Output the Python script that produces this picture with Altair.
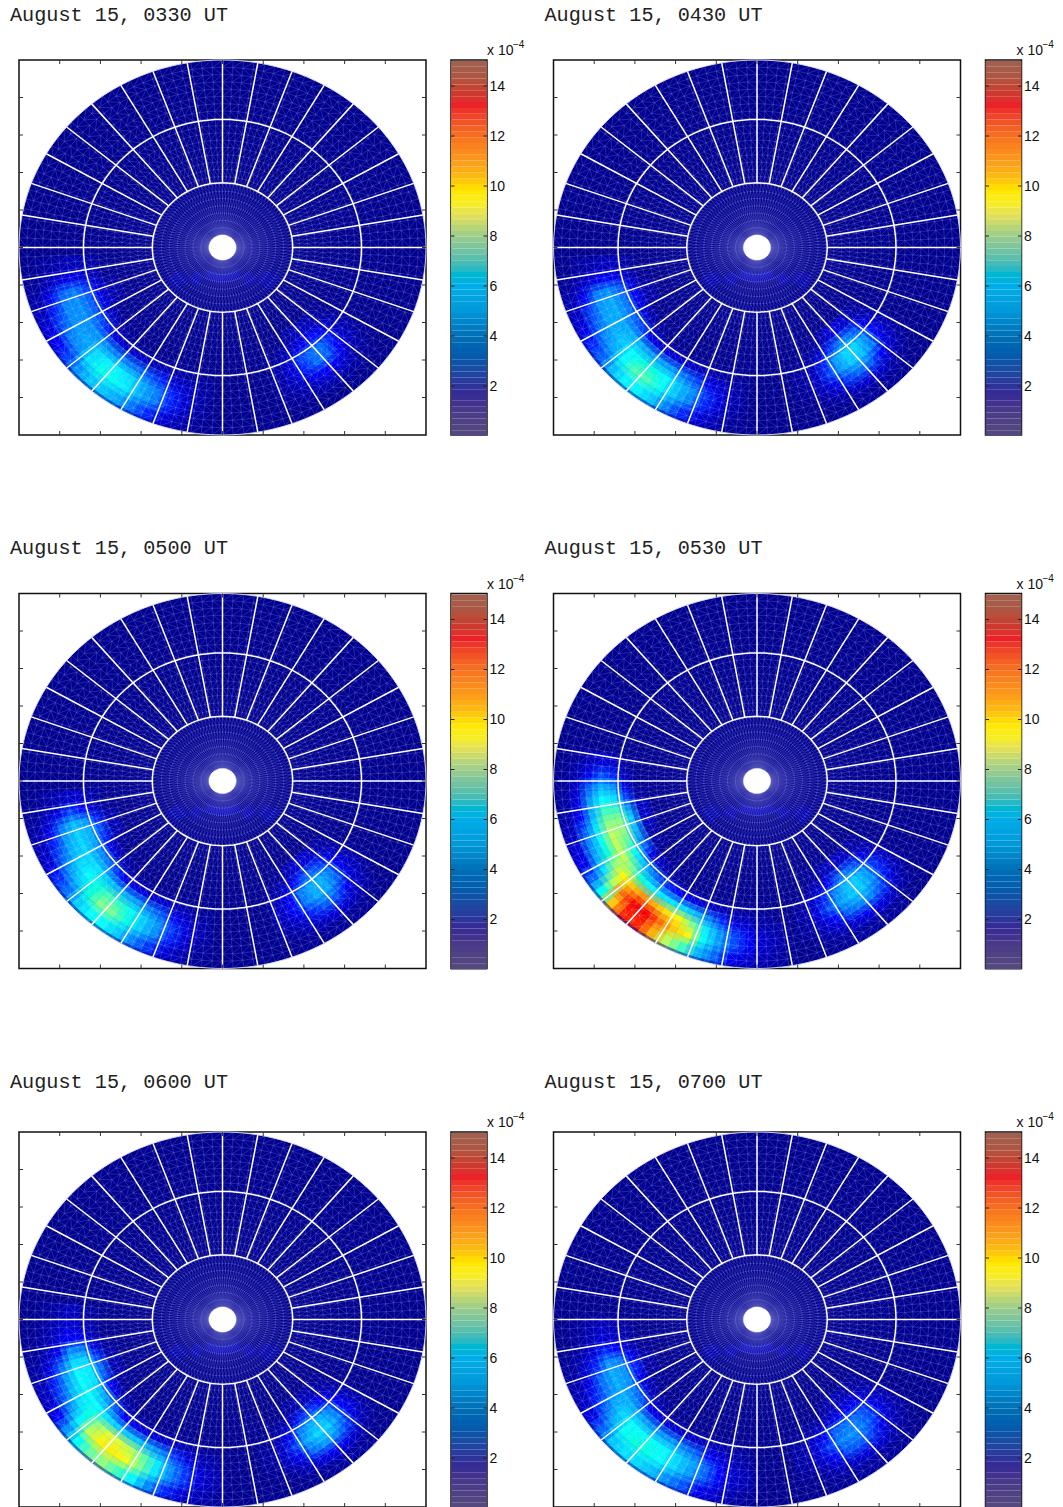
import math
import altair as alt

TITLES = ["August 15, 0330 UT", "August 15, 0430 UT", "August 15, 0500 UT",
          "August 15, 0530 UT", "August 15, 0600 UT", "August 15, 0700 UT"]
RING_CENTRES_EDGES = [.38, .44, .50, .56, .62, .68, .74, .80, .86, .92, 1.0]
SECTOR_WIDTH = 5

P0330 = {
5:[0,0,0,0,.4,.7,.7,.5,.3,0],10:[0,0,0,0,.6,1.2,1.6,1.2,.6,.2],15:[0,0,0,.3,1.2,2.2,3,2.6,1.5,.5],
20:[0,0,0,.5,1.5,2.6,3.4,3.2,2,.8],25:[0,0,0,.4,1.3,2.6,3.4,3.3,2.4,1.3],30:[0,0,0,0,1,2.4,3.4,3.6,3,1.8],
35:[0,0,0,0,.6,2,3.4,3.8,3.3,2.2],40:[0,0,0,0,.3,1.3,3.3,4.8,5,3.4],45:[0,0,0,0,0,1,3,5.4,6.2,4.4],
50:[0,0,0,0,0,1,3,5.4,6,4.4],55:[0,0,0,0,0,1,2.8,4.8,5.3,3.8],60:[0,0,0,0,0,.8,2.4,3.8,4,2.8],
65:[0,0,0,0,0,.7,2,3,3.1,2],70:[0,0,0,0,0,.5,1.3,2,2,1.2],75:[0,0,0,0,0,.3,.9,1.2,1.1,.6],
80:[0,0,0,0,0,.2,.4,.5,.4,.2],
110:[0,0,0,0,.2,.5,.5,.4,.2,0],115:[0,0,0,0,.6,1.2,1.3,.8,.4,0],120:[0,0,0,.4,1.2,2.2,2,1.3,.6,0],
125:[0,0,0,.8,1.7,2.8,2.8,1.8,.7,0],130:[0,0,0,.8,1.9,2.8,2.6,1.6,.6,0],135:[0,0,0,.6,1.5,2,1.8,1,.4,0],
140:[0,0,0,.3,.8,1,.9,.5,.2,0],145:[0,0,0,0,.3,.4,.3,.2,0,0]}
P0430 = {
5:[0,0,0,0,.4,.8,.8,.5,.3,0],10:[0,0,0,0,.7,1.4,1.8,1.3,.7,.2],15:[0,0,0,.3,1.4,2.6,3.4,3,1.7,.6],
20:[0,0,0,.5,1.7,3,3.9,3.5,2.2,.9],25:[0,0,0,.4,1.5,3,3.9,3.7,2.6,1.4],30:[0,0,0,0,1.1,2.7,3.8,4,3.2,2],
35:[0,0,0,0,.7,2.3,4,4.5,3.8,2.6],40:[0,0,0,0,.4,1.6,4,5.6,5.8,4.2],45:[0,0,0,0,0,1.2,3.6,6.4,7.2,5.4],
50:[0,0,0,0,0,1.2,3.6,6.4,7.2,5.4],55:[0,0,0,0,0,1.2,3.4,5.6,6,4.4],60:[0,0,0,0,0,1,2.9,4.4,4.4,3],
65:[0,0,0,0,0,.8,2.2,3.4,3.2,2],70:[0,0,0,0,0,.6,1.5,2.1,2,1.2],75:[0,0,0,0,0,.3,1,1.3,1.1,.6],
80:[0,0,0,0,0,.2,.5,.6,.4,.2],
105:[0,0,0,0,0,.3,.3,.2,0,0],110:[0,0,0,0,.3,.8,1,.7,.3,0],115:[0,0,0,.2,1,2,2.2,1.4,.6,.1],
120:[0,0,0,.6,2,3.6,3.5,2.2,1,.2],125:[0,0,0,1.2,2.8,4.8,4.5,2.8,1.2,.2],130:[0,0,0,1.3,3,4.8,4.2,2.6,1.1,.2],
135:[0,0,0,1,2.4,3.4,3,1.8,.7,.1],140:[0,0,0,.6,1.4,1.9,1.5,.9,.3,0],145:[0,0,0,.2,.6,.8,.6,.3,0,0]}
P0500 = {
5:[0,0,0,0,.5,1,1,.6,.3,0],10:[0,0,0,0,1,1.9,2.3,1.5,.7,.2],15:[0,0,0,.5,2,3.6,4.2,3,1.6,.5],
20:[0,0,0,.7,2.4,4,4.7,3.6,2,.8],25:[0,0,0,.5,2,3.8,4.8,4,2.6,1.2],30:[0,0,0,.2,1.4,3.4,4.8,4.8,3.5,2],
35:[0,0,0,0,1,3,5,5.6,4.4,2.8],40:[0,0,0,0,.6,2.2,4.5,6.4,6.5,4.6],45:[0,0,0,0,.2,1.6,4,7.1,7.9,5.6],
50:[0,0,0,0,0,1.4,3.8,6.9,7.7,5.6],55:[0,0,0,0,0,1.3,3.5,6,6.3,4.5],60:[0,0,0,0,0,1.1,3,4.6,4.6,3.1],
65:[0,0,0,0,0,1,2.4,3.5,3.3,2.1],70:[0,0,0,0,0,.7,1.6,2.2,2,1.2],75:[0,0,0,0,0,.4,1,1.3,1.1,.6],
80:[0,0,0,0,0,.2,.5,.6,.4,.2],
110:[0,0,0,0,.3,.8,1,.7,.3,0],115:[0,0,0,.2,1,1.7,1.9,1.3,.6,.1],120:[0,0,0,.6,1.8,3,3,2,1,.2],
125:[0,0,0,1.1,2.4,3.9,3.9,2.6,1.3,.2],130:[0,0,0,1.2,2.6,4,3.7,2.5,1.2,.2],135:[0,0,0,1,2.1,3,2.6,1.7,.8,.1],
140:[0,0,0,.5,1.3,1.7,1.4,.9,.4,0],145:[0,0,0,.2,.5,.7,.6,.3,0,0]}
P0530 = {
-10:[0,0,0,0,.3,1,1.2,.8,.3,0],-5:[0,0,0,0,.8,2,2.4,1.5,.6,.1],0:[0,0,0,0,1.4,3.4,4,2.6,1,.2],
5:[0,0,0,.3,2.2,5,5.6,3.6,1.4,.3],10:[0,0,0,.8,3.5,7,7,4,1.8,.5],15:[0,0,0,1,4.6,8,8,5,2.5,.8],
20:[0,0,0,.8,4.2,8,8.6,5.8,3.2,1.2],25:[0,0,0,.5,3.4,7.2,8.6,6.5,3.8,1.6],30:[0,0,0,.3,2.6,6,8.6,8,5,2.6],
35:[0,0,0,0,1.5,4.5,7.6,9.5,8.5,6],40:[0,0,0,0,1,3.4,6.5,10.5,12.2,10.5],45:[0,0,0,0,.5,2.5,5.4,11.5,13.2,13],
50:[0,0,0,0,.3,2,5,11,13.2,13],55:[0,0,0,0,0,1.8,5,10,12.2,11],60:[0,0,0,0,0,1.5,4.8,9.5,10.5,8.5],
65:[0,0,0,0,0,1.2,4,7.8,9.5,7],70:[0,0,0,0,0,1,3,5.2,6,4],75:[0,0,0,0,0,.7,2,3.4,3.6,2.6],
80:[0,0,0,0,0,.5,1.3,2.2,2.4,1.6],85:[0,0,0,0,0,.3,.9,1.6,1.7,1],90:[0,0,0,0,0,.2,.5,1,1,.6],
95:[0,0,0,0,0,0,.3,.5,.5,.3],
105:[0,0,0,0,0,.3,.4,.3,.1,0],110:[0,0,0,0,.4,1,1.4,1,.5,.1],115:[0,0,0,.3,1,2,2.5,1.8,.9,.2],
120:[0,0,0,.6,1.8,3.2,3.6,2.6,1.3,.3],125:[0,0,0,.9,2.6,4.2,4.4,3.2,1.6,.3],130:[0,0,0,1,2.8,4.6,4.4,3.2,1.5,.3],
135:[0,0,0,.8,2.3,3.6,3.4,2.3,1.1,.2],140:[0,0,0,.5,1.4,2.1,2,1.3,.5,0],145:[0,0,0,.2,.6,.9,.8,.5,.2,0]}
P0600 = {
-5:[0,0,0,0,.3,.7,.8,.4,.2,0],0:[0,0,0,0,.5,1,1.2,.7,.3,0],5:[0,0,0,0,.8,1.6,1.8,1,.4,.1],
10:[0,0,0,.2,1.3,3,3.2,1.6,.7,.2],15:[0,0,0,.5,2.2,4.8,4.8,2.8,1.4,.4],20:[0,0,0,.6,2.8,5.3,5.6,3.6,2,.7],
25:[0,0,0,.5,2.4,5,5.8,4.2,2.4,1],30:[0,0,0,.2,1.8,4.3,5.8,5,3.2,1.8],35:[0,0,0,0,1.2,3.5,5.6,6.4,5.4,3.4],
40:[0,0,0,0,.7,2.5,5,8,8.6,6],45:[0,0,0,0,.3,1.8,4.5,9,9.6,7.5],50:[0,0,0,0,0,1.5,4.4,9,9.7,8],
55:[0,0,0,0,0,1.3,4.3,8.5,9.3,7],60:[0,0,0,0,0,1.2,3.8,7.4,7.8,5.4],65:[0,0,0,0,0,1,3,5.2,5.2,3.2],
70:[0,0,0,0,0,.8,2.1,3.3,3.3,2],75:[0,0,0,0,0,.5,1.3,2.1,2.1,1.2],80:[0,0,0,0,0,.3,.8,1.2,1.2,.7],
85:[0,0,0,0,0,.1,.4,.6,.6,.3],
105:[0,0,0,0,0,.2,.3,.2,0,0],110:[0,0,0,0,.2,.7,1,.8,.3,0],115:[0,0,0,0,.7,1.7,2.2,1.6,.7,.1],
120:[0,0,0,.3,1.4,3,3.8,2.8,1.3,.2],125:[0,0,0,.6,2.1,4,4.8,3.6,1.7,.3],130:[0,0,0,.7,2.2,4,4.6,3.3,1.5,.3],
135:[0,0,0,.6,1.8,3,3.2,2.2,1,.2],140:[0,0,0,.3,1,1.7,1.7,1.1,.4,0],145:[0,0,0,.1,.4,.7,.7,.4,.1,0]}
P0700 = {
0:[0,0,0,0,.3,.6,.8,.5,.2,0],5:[0,0,0,0,.5,1,1.2,.7,.3,0],10:[0,0,0,.1,.9,1.8,2,1.2,.5,.1],
15:[0,0,0,.4,1.7,3,3.4,2,1,.3],20:[0,0,0,.5,2,3.5,3.9,2.8,1.5,.6],25:[0,0,0,.3,1.7,3.4,3.9,3,2,.9],
30:[0,0,0,.2,1.2,3,4,3.8,2.6,1.5],35:[0,0,0,0,.8,2.5,4,4.8,3.9,2.6],40:[0,0,0,0,.5,1.7,3.8,5.8,5.9,4.4],
45:[0,0,0,0,.2,1.3,3.4,5.9,6.5,5],50:[0,0,0,0,0,1.2,3.4,5.9,6.3,4.8],55:[0,0,0,0,0,1.1,3.4,5.5,5.7,4.2],
60:[0,0,0,0,0,1,3,4.7,4.8,3.3],65:[0,0,0,0,0,.9,2.5,3.8,3.6,2.4],70:[0,0,0,0,0,.7,1.8,2.7,2.6,1.6],
75:[0,0,0,0,0,.5,1.2,1.8,1.7,1],80:[0,0,0,0,0,.3,.7,1,1,.5],85:[0,0,0,0,0,.1,.3,.5,.5,.2],
105:[0,0,0,0,.1,.4,.5,.4,.1,0],110:[0,0,0,0,.4,1,1.2,.9,.4,.1],115:[0,0,0,0,.7,1.8,2.2,1.7,.8,.2],
120:[0,0,0,.3,1.1,2.6,3.1,2.4,1.1,.3],125:[0,0,0,.6,1.5,2.9,3.4,2.6,1.3,.3],130:[0,0,0,.7,1.7,2.8,3,2.3,1.2,.3],
135:[0,0,0,.6,1.5,2.3,2.3,1.6,.8,.2],140:[0,0,0,.4,1,1.4,1.4,.9,.4,.1],145:[0,0,0,.2,.4,.6,.6,.4,.1,0]}
PANELS = [P0330, P0430, P0500, P0530, P0600, P0700]

# faint streak inside the inner ring: azimuth from, azimuth to, r from, r to, value
INNER_STREAK = [(30,45,.24,.32,.45),(45,60,.18,.24,.55),(60,120,.14,.19,.65),(120,135,.18,.24,.55),(135,150,.24,.32,.45)]

RING_WHITE = [.345, .683]
RING_MESH_STEP = .04
HOLE = .067
JET_STOPS = [0, 1.875, 5.625, 9.375, 13.125, 15]
JET_COLORS = ["#00008f", "#0000ff", "#00ffff", "#ffff00", "#ff0000", "#800000"]
BAR_STOPS = [0, 1, 1.7, 2.5, 3, 4, 5, 6, 6.5, 7, 7.5, 8, 8.7, 9.3, 9.8, 10.3, 11, 12, 12.7, 13.2, 13.8, 14.5, 15]
BAR_COLORS = ["#554a7a", "#4a3a8a", "#352a96", "#1f45a0", "#0a55a8", "#0070b8", "#0098d8", "#00aee8", "#00b8d0",
              "#50bcb0", "#78c4a0", "#a0cc8c", "#dcdc60", "#f8ee20", "#ffe800", "#fdc010", "#fb9a1c", "#f87020",
              "#f04a28", "#ee2028", "#c83c30", "#a85a46", "#a06050"]
BAR_TICKS = [2, 4, 6, 8, 10, 12, 14]
FRAME_TICKS = [-.8, -.6, -.4, -.2, 0, .2, .4, .6, .8]
# each table is painted four times, half a cell apart, so neighbouring cells blend as in the shaded original
PASSES = [(-1.25, -.015, 1), (1.25, -.015, .5), (-1.25, .015, .3333), (1.25, .015, .25)]

W, H = 407, 375
BW = 36


def pt(a, r):
    t = math.radians(a)
    return round(-r * math.cos(t), 4), round(-r * math.sin(t), 4)


def poly(idv, corners, v=None):
    out = []
    for i, (a, r) in enumerate(corners):
        x, y = pt(a, r)
        out.append({"id": idv, "i": i, "x": x, "y": y, "v": v})
    return out


def cell_rows(table, da, dr):
    rows = []
    for a0, prof in table.items():
        for j, v in enumerate(prof):
            if j >= 3:
                r0 = RING_CENTRES_EDGES[j] + dr
                r1 = min(RING_CENTRES_EDGES[j + 1] + dr, 1)
                a_0, a_1 = a0 + da, a0 + SECTOR_WIDTH + da
                rows += poly(f"{a0}_{j}", [(a_0, r0), (a_1, r0), (a_1, r1), (a_0, r1)], v)
    return rows


def streak_rows():
    rows = []
    for k, (a0, a1, r0, r1, v) in enumerate(INNER_STREAK):
        rows += poly(f"s{k}", [(a0, r0), ((a0 + a1) / 2, r0), (a1, r0), (a1, r1), ((a0 + a1) / 2, r1), (a0, r1)], v)
    return rows


def ellipse_rows(idv, r, n=120):
    return poly(idv, [(360 * k / n, r) for k in range(n + 1)])


mesh = []
n_r = int((1 - HOLE) / RING_MESH_STEP) + 1
radii = [HOLE + (1 - HOLE) * k / n_r for k in range(n_r + 1)]
for k in range(120):
    a = 3 * k
    mesh += poly(f"rad{k}", [(a, HOLE), (a, 1)])
    mesh += poly(f"zig{k}", [(a + (3 if j % 2 else 0), radii[j]) for j in range(n_r + 1)])
for j, r in enumerate(radii[1:-1]):
    mesh += ellipse_rows(f"ring{j}", r)

white = []
for r in RING_WHITE:
    white += ellipse_rows(f"w{r}", r)
for k in range(36):
    white += poly(f"sp{k}", [(10 * k, RING_WHITE[0]), (10 * k, 1)])

DISC = ellipse_rows("disc", 1)
HOLE_ROWS = ellipse_rows("hole", HOLE, 48)
TICK_ROWS = [{"t": t} for t in FRAME_TICKS]

X = alt.X("x:Q", scale=alt.Scale(domain=[-1, 1], nice=False, zero=False), axis=None)
Y = alt.Y("y:Q", scale=alt.Scale(domain=[-1, 1], nice=False, zero=False), axis=None)
TX = alt.X("t:Q", scale=alt.Scale(domain=[-1, 1], nice=False, zero=False), axis=None)
TY = alt.Y("t:Q", scale=alt.Scale(domain=[-1, 1], nice=False, zero=False), axis=None)
ORD = alt.Order("i:Q")
JET = alt.Fill("v:Q", scale=alt.Scale(domain=JET_STOPS, range=JET_COLORS), legend=None)


def panel(idx, title_offset):
    d = lambda rows: alt.Data(values=rows)
    disc = alt.Chart(d(DISC)).mark_line(filled=True, fill="#00008f", strokeWidth=0).encode(
        x=X, y=Y, order=ORD, detail="id:N")
    passes = [
        alt.Chart(d(cell_rows(PANELS[idx], da, dr))).mark_line(filled=True, strokeWidth=0, opacity=op).encode(
            x=X, y=Y, order=ORD, detail="id:N", fill=JET)
        for da, dr, op in PASSES
    ]
    streak = alt.Chart(d(streak_rows())).mark_line(filled=True, strokeWidth=0).encode(
        x=X, y=Y, order=ORD, detail="id:N", fill=JET)
    mesh_l = alt.Chart(d(mesh)).mark_line(stroke="#d0d0ff", strokeWidth=.5, opacity=.36).encode(
        x=X, y=Y, order=ORD, detail="id:N")
    white_l = alt.Chart(d(white)).mark_line(stroke="#ffffff", strokeWidth=1.5).encode(
        x=X, y=Y, order=ORD, detail="id:N")
    edge = alt.Chart(d(DISC)).mark_line(stroke="#dcdcf8", strokeWidth=.9).encode(
        x=X, y=Y, order=ORD, detail="id:N")
    hole = alt.Chart(d(HOLE_ROWS)).mark_line(filled=True, fill="#ffffff", stroke="#ffffff", strokeWidth=.5).encode(
        x=X, y=Y, order=ORD, detail="id:N")
    tk = alt.Chart(d(TICK_ROWS))
    tstyle = dict(color="#333333", strokeWidth=1)
    t_top = tk.mark_rule(**tstyle).encode(x=TX, y=alt.value(0), y2=alt.value(4))
    t_bot = tk.mark_rule(**tstyle).encode(x=TX, y=alt.value(H), y2=alt.value(H - 4))
    t_l = tk.mark_rule(**tstyle).encode(y=TY, x=alt.value(0), x2=alt.value(4))
    t_r = tk.mark_rule(**tstyle).encode(y=TY, x=alt.value(W), x2=alt.value(W - 4))
    return alt.layer(disc, *passes, streak, mesh_l, white_l, edge, hole, t_top, t_bot, t_l, t_r).properties(
        width=W, height=H,
        title=alt.TitleParams(TITLES[idx], anchor="start", font="Liberation Mono", fontSize=20.2, fontWeight="normal",
                              color="#222222", dx=-6, offset=title_offset))


BAR_LEVELS = [15 * k / 64 for k in range(65)]
BAR_ROWS = [{"lo": BAR_LEVELS[k], "hi": BAR_LEVELS[k + 1], "c": (BAR_LEVELS[k] + BAR_LEVELS[k + 1]) / 2} for k in range(64)]
BAR_AXIS = alt.Axis(orient="right", values=BAR_TICKS, tickSize=0, domain=False, grid=False, title=None,
                    labelFont="Liberation Sans", labelFontSize=14, labelColor="#111111", labelPadding=2)
BY = alt.Y("lo:Q", scale=alt.Scale(domain=[.04, 15.04], nice=False, zero=False), axis=BAR_AXIS)
BTY = alt.Y("t:Q", scale=alt.Scale(domain=[.04, 15.04], nice=False, zero=False), axis=BAR_AXIS)


def colorbar(label_x):
    bar = alt.Chart(alt.Data(values=BAR_ROWS)).mark_rect().encode(
        y=BY, y2="hi:Q",
        color=alt.Color("c:Q", scale=alt.Scale(domain=BAR_STOPS, range=BAR_COLORS), legend=None))
    tk = alt.Chart(alt.Data(values=[{"t": t} for t in BAR_TICKS]))
    st = dict(color="#222222", strokeWidth=1)
    l = tk.mark_rule(**st).encode(y=BTY, x=alt.value(0), x2=alt.value(3.5))
    r = tk.mark_rule(**st).encode(y=BTY, x=alt.value(BW), x2=alt.value(BW - 3.5))
    base = alt.Chart(alt.Data(values=[{"a": "x 10", "b": "\u22124"}]))
    t1 = base.mark_text(align="left", baseline="alphabetic", font="Liberation Sans", fontSize=14, color="#111111").encode(
        x=alt.value(label_x), y=alt.value(-5), text="a:N")
    t2 = base.mark_text(align="left", baseline="alphabetic", font="Liberation Sans", fontSize=10, color="#111111").encode(
        x=alt.value(label_x + 26), y=alt.value(-12), text="b:N")
    return alt.layer(bar, l, r, t1, t2).properties(width=BW, height=H)


def row(i, j, off):
    return alt.hconcat(
        alt.hconcat(panel(i, off), colorbar(36), spacing=19),
        alt.hconcat(panel(j, off), colorbar(31), spacing=19),
        spacing=17.5)


chart = alt.vconcat(row(0, 1, 32), row(2, 3, 32), row(4, 5, 36.5), spacing=98.5).properties(
    padding={"left": 1, "top": -4, "right": 0, "bottom": 0}
).configure_view(stroke="#111111", strokeWidth=1.5)

chart.save("out.html", embed_options={"renderer": "svg", "actions": False})
